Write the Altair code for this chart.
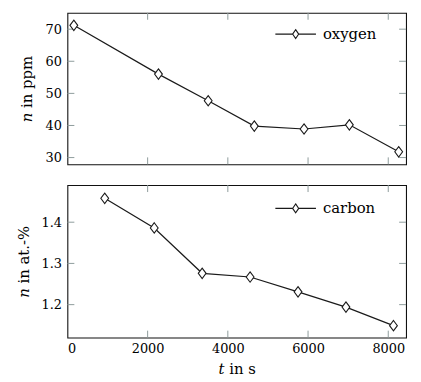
import altair as alt
import pandas as pd

# data
oxy_t = [160, 2270, 3510, 4660, 5900, 7030, 8260]
oxy_n = [71.2, 56.0, 47.7, 39.8, 38.9, 40.2, 31.8]
car_t = [930, 2165, 3360, 4555, 5750, 6945, 8130]
car_n = [1.458, 1.386, 1.276, 1.267, 1.231, 1.194, 1.149]

x_ticks = [0, 2000, 4000, 6000, 8000]
oxy_ticks = [30, 40, 50, 60, 70]
car_ticks = [1.2, 1.3, 1.4]

X_DOMAIN = [0, 8444]
OXY_DOMAIN = [27.9, 75.1]
CAR_DOMAIN = [1.12, 1.49]

W, H1, H2 = 342, 153, 154
FONT = "DejaVu Serif"
TICK_COLOR = "#8e9c9c"
TL = 7

LEG_PATH = ("M-1,0L-0.15,0M0.15,0L1,0"
            "M0,-0.22L0.15,0L0,0.22L-0.15,0Z")
DIAMOND = "M0,-1L0.75,0L0,1L-0.75,0Z"


def panel(ts, ns, series, ydomain, yticks, ytitle, yfmt, H, show_x, leg_y, title_pad):
    df = pd.DataFrame({"t": ts, "n": ns, "series": [series] * len(ts)})
    xscale = alt.Scale(domain=X_DOMAIN, nice=False, zero=False)
    yscale = alt.Scale(domain=ydomain, nice=False, zero=False)
    if show_x:
        xaxis = alt.Axis(values=x_ticks, format="d", title="𝑡 in s", labelPadding=5,
                         titlePadding=6)
    else:
        xaxis = None
    yaxis = alt.Axis(values=yticks, format=yfmt, title=ytitle, labelPadding=6,
                     titlePadding=title_pad)
    x = alt.X("t:Q", scale=xscale, axis=xaxis, title="𝑡 in s")
    y = alt.Y("n:Q", scale=yscale, axis=yaxis, title=ytitle)
    color = alt.Color(
        "series:N",
        scale=alt.Scale(range=["#1a1a1a"]),
        legend=alt.Legend(
            title=None, orient="none", legendX=209, legendY=leg_y, padding=0,
            symbolType=LEG_PATH, symbolSize=1681, symbolFillColor="white",
            symbolStrokeColor="#1a1a1a", symbolStrokeWidth=1.1,
            labelFont=FONT, labelFontSize=15, labelColor="black", labelOffset=6,
        ),
    )
    line = alt.Chart(df).mark_line(strokeWidth=1.2).encode(x=x, y=y, color=color)
    pts = alt.Chart(df).mark_point(
        shape=DIAMOND, filled=False, fill="white", fillOpacity=1, size=110,
        strokeWidth=1.1, opacity=1,
    ).encode(x=x, y=y, color=color)

    xt = pd.DataFrame({"t": x_ticks[1:]})
    yt = pd.DataFrame({"n": yticks})
    xt_bot = alt.Chart(xt).mark_rule(color=TICK_COLOR, strokeWidth=1).encode(
        x=x, y=alt.value(H), y2=alt.value(H - TL))
    xt_top = alt.Chart(xt).mark_rule(color=TICK_COLOR, strokeWidth=1).encode(
        x=x, y=alt.value(0), y2=alt.value(TL))
    yt_left = alt.Chart(yt).mark_rule(color=TICK_COLOR, strokeWidth=1).encode(
        y=y, x=alt.value(0), x2=alt.value(TL))
    yt_right = alt.Chart(yt).mark_rule(color=TICK_COLOR, strokeWidth=1).encode(
        y=y, x=alt.value(W - TL), x2=alt.value(W))
    return alt.layer(xt_bot, xt_top, yt_left, yt_right, line, pts).properties(
        width=W, height=H)


top = panel(oxy_t, oxy_n, "oxygen", OXY_DOMAIN, oxy_ticks, "𝑛 in ppm", "d", H1, False, 0, 11)
bot = panel(car_t, car_n, "carbon", CAR_DOMAIN, car_ticks, "𝑛 in at.-%", ".1f", H2, True, 2, 10)

chart = alt.vconcat(top, bot, spacing=17).resolve_scale(color="independent").properties(
    padding={"top": 1, "left": 7, "right": 5, "bottom": 5},
    background="white",
).configure_view(stroke="#111", strokeWidth=1.1).configure_axis(
    domain=False, ticks=False, grid=False,
    labelFont=FONT, labelFontSize=13, labelColor="black",
    titleFont=FONT, titleFontSize=15, titleFontWeight="normal", titleColor="black",
)

chart.save("out.html", embed_options={"renderer": "svg", "actions": False})
